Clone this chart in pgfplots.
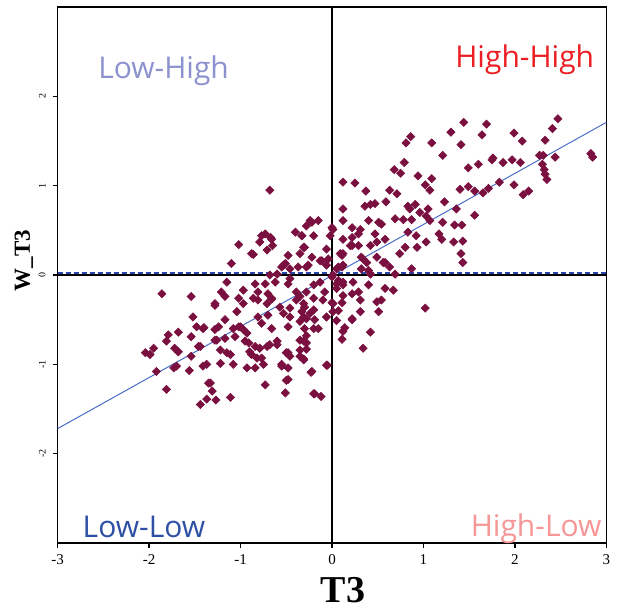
\documentclass[border=0pt]{standalone}
\usepackage{fontspec}
\setmainfont{Liberation Serif}
\newfontfamily\qfont{Open Sans}
\usepackage{pgfplots}
\pgfplotsset{compat=1.18}

\definecolor{ptcol}{RGB}{122,16,64}
\definecolor{lowhigh}{RGB}{140,146,206}
\definecolor{highhigh}{RGB}{236,30,36}
\definecolor{lowlow}{RGB}{45,80,165}
\definecolor{highlow}{RGB}{246,150,150}
\definecolor{regcol}{RGB}{74,108,200}
\definecolor{dashcol}{RGB}{40,70,170}

\begin{document}
\begin{tikzpicture}
\begin{axis}[
  scale only axis,
  width=274.5pt, height=268pt,
  xmin=-3, xmax=3, ymin=-3, ymax=3,
  xtick={-3,-2,-1,0,1,2,3},
  ytick={-2,-1,0,1,2},
  xtick pos=lower, ytick pos=left,
  tick align=outside,
  major tick length=2.5pt,
  axis line style={line width=0.8pt},
  tick style={black, line width=0.6pt},
  /pgf/number format/assume math mode=true,
  xticklabel style={font=\fontsize{7.5}{8}\selectfont},
  yticklabel style={font=\fontsize{5}{6}\selectfont, rotate=90, anchor=south},
  clip=false,
]
% keep the white margins of the reference
\path (axis cs:-3.63,3.08) rectangle (axis cs:3.16,-3.75);

% observations (T3, spatial lag W_T3)
\addplot[only marks, mark=square*, mark size=1.45pt, color=ptcol,
  mark options={rotate=45, line width=0.3pt}] coordinates {
(1.44,1.71)(1.69,1.69)(2.47,1.75)(2.41,1.64)(1.30,1.60)(1.64,1.57)(1.99,1.59)(0.86,1.55)
(0.81,1.48)(1.09,1.48)(1.41,1.46)(2.08,1.50)(2.33,1.51)(1.21,1.34)(1.76,1.31)(1.75,1.29)
(1.87,1.26)(1.97,1.29)(2.06,1.26)(2.27,1.34)(2.31,1.34)(2.44,1.32)(2.83,1.36)(2.85,1.32)
(0.79,1.26)(0.68,1.18)(0.75,1.14)(0.94,1.11)(1.09,1.08)(1.49,1.20)(1.60,1.24)(2.30,1.24)
(2.32,1.18)(2.33,1.13)(2.35,1.07)(0.12,1.04)(0.25,1.03)(1.02,1.01)(1.07,0.95)(0.37,0.94)
(0.63,0.95)(0.71,0.91)(1.40,0.96)(1.49,0.99)(1.56,0.94)(1.65,0.92)(1.71,0.97)(1.83,1.04)
(1.99,1.01)(2.09,0.90)(2.15,0.94)(0.36,0.77)(0.42,0.79)(0.47,0.80)(0.59,0.82)(0.83,0.77)
(0.91,0.79)(0.85,0.74)(1.23,0.82)(0.12,0.74)(0.96,0.70)(1.05,0.74)(1.36,0.74)(1.56,0.67)
(1.03,0.66)(0.12,0.61)(0.40,0.61)(0.51,0.59)(0.54,0.57)(0.69,0.63)(0.78,0.62)(0.87,0.62)
(1.07,0.61)(1.21,0.59)(1.34,0.56)(1.42,0.56)(0.22,0.53)(0.31,0.51)(0.01,0.51)(0.29,0.46)
(0.47,0.46)(0.58,0.40)(0.83,0.48)(0.92,0.44)(1.17,0.46)(0.22,0.42)(0.12,0.40)(0.42,0.33)
(0.49,0.37)(0.80,0.31)(0.93,0.31)(1.03,0.37)(1.20,0.40)(1.33,0.37)(1.43,0.38)(0.20,0.33)
(0.12,0.24)(0.34,0.18)(0.38,0.14)(0.49,0.20)(0.56,0.14)(0.63,0.09)(0.74,0.24)(0.87,0.07)
(1.41,0.24)(1.43,0.14)(0.11,0.09)(0.05,0.07)(0.32,0.07)(0.40,0.05)(0.69,0.01)(0.01,0.00)
(0.05,-0.10)(0.12,-0.08)(0.23,-0.08)(0.40,-0.11)(0.58,-0.15)(0.67,-0.17)(0.12,-0.23)(0.22,-0.21)
(0.29,-0.19)(0.31,-0.28)(0.49,-0.30)(0.54,-0.28)(0.51,-0.41)(1.02,-0.37)(0.22,-0.49)(0.01,-0.32)
(0.01,-0.41)(0.11,-0.31)(0.07,-0.40)(0.31,-0.41)(0.05,-0.51)(0.14,-0.59)(0.12,-0.63)(0.11,-0.72)
(0.42,-0.64)(0.34,-0.82)
(-0.20,-0.26)(-0.10,-0.28)(0.00,-0.31)(-0.06,-0.47)(0.22,-0.50)(-0.06,-1.01)(-0.23,-1.09)(-0.20,-1.33)
(-0.12,-1.36)(-0.31,-0.94)(-0.28,-0.83)(-0.31,-0.74)(-0.28,-0.68)(-0.20,-0.60)(-0.15,-0.60)(-0.30,-0.60)
(-0.28,-0.49)(-0.19,-0.50)(-0.24,-0.43)(-0.20,-0.39)(-0.30,-0.36)(-0.31,-0.47)
(-0.24,0.61)(-0.15,0.61)(-0.33,0.44)(-0.20,0.44)(-0.30,0.31)(-0.22,0.20)(-0.13,0.16)(-0.04,0.18)
(0.00,0.53)(-0.02,0.44)(-0.28,0.09)(0.09,0.24)(0.07,0.09)(0.12,0.11)(0.00,-0.02)(0.07,-0.06)
(-0.13,-0.08)(-0.20,-0.11)(-0.28,-0.19)(-0.08,-0.19)(0.05,-0.15)(0.12,-0.11)(0.42,0.01)(0.32,0.20)
(0.22,0.33)(0.29,0.33)(0.11,0.22)(0.58,0.14)
(-0.77,0.44)(-0.79,0.37)(-0.67,0.42)(-0.65,0.33)(-0.71,0.28)(-1.02,0.34)(-0.88,0.24)(-0.86,0.23)
(-1.10,0.13)(-0.48,0.22)(-0.35,0.24)(-0.40,0.48)(-0.33,0.44)(-0.28,0.55)(-0.51,0.13)(-0.55,0.09)
(-0.46,0.07)(-0.68,0.00)(-0.60,0.01)(-0.37,0.09)(-1.15,-0.08)(-0.73,-0.10)(-0.84,-0.10)(-0.62,-0.08)
(-0.46,-0.04)(-0.48,-0.10)(-0.97,-0.17)(-1.21,-0.19)(-1.17,-0.24)(-0.81,-0.19)(-0.70,-0.21)(-0.86,-0.26)
(-0.66,-0.27)(-0.35,-0.24)(-0.39,-0.19)(-0.68,0.95)
(-1.86,-0.21)(-1.54,-0.24)(-1.52,-0.47)(-1.48,-0.58)(-1.40,-0.59)(-1.79,-0.67)(-1.81,-0.74)(-1.68,-0.64)
(-1.54,-0.69)(-1.95,-0.82)(-2.04,-0.87)(-1.99,-0.89)(-1.72,-0.82)(-1.68,-0.86)(-1.46,-0.80)(-1.54,-0.91)
(-1.92,-1.08)(-1.73,-1.04)(-1.70,-1.02)(-1.56,-1.07)(-1.41,-1.02)(-1.81,-1.28)(-1.44,-1.45)(-1.35,-1.21)
(-1.28,-0.32)(-1.02,-0.26)(-0.97,-0.32)(-0.81,-0.28)(-0.71,-0.32)(-0.66,-0.26)(-0.57,-0.36)(-0.46,-0.37)
(-0.39,-0.28)(-0.31,-0.32)(-1.17,-0.50)(-1.41,-0.60)(-1.28,-0.61)(-1.08,-0.60)(-1.02,-0.58)(-0.97,-0.61)
(-0.81,-0.47)(-0.77,-0.54)(-0.70,-0.45)(-0.66,-0.60)(-0.53,-0.43)(-0.46,-0.47)(-0.48,-0.58)(-0.33,-0.41)
(-0.35,-0.52)(-1.28,-0.73)(-1.22,-0.84)(-1.15,-0.87)(-1.44,-0.80)(-1.06,-0.69)(-0.91,-0.76)(-0.84,-0.80)
(-0.79,-0.82)(-0.90,-0.86)(-0.77,-0.93)(-0.71,-0.80)(-0.60,-0.78)(-0.48,-0.87)(-0.46,-0.91)(-0.35,-0.73)
(-0.28,-0.76)(-0.35,-0.84)(-0.55,-1.02)(-0.48,-1.04)(-1.37,-1.00)(-1.22,-0.99)(-1.08,-1.00)(-0.93,-1.04)
(-0.84,-1.04)(-1.33,-1.21)(-1.31,-1.30)(-1.11,-1.37)(-0.73,-1.23)(-0.51,-1.32)(-0.48,-1.17)(-1.37,-1.39)
(-1.27,-1.40)(-0.19,-1.33)(-0.05,-1.01)(-0.50,-1.18)(-0.22,-1.08)(-1.04,-0.41)(-1.00,-0.58)(-1.28,-0.34)
(-1.24,-0.58)(-1.26,-0.73)(-1.17,-0.71)(-1.11,-0.89)(-0.93,-0.65)(-0.95,-0.74)(-0.88,-0.89)(-0.82,-0.93)
(-0.75,-1.00)(-0.68,-0.78)(-0.60,-0.74)(-0.50,-0.87)(-0.35,-0.91)(-0.31,-0.95)(-0.55,-1.00)(-0.73,0.46)
(-0.66,0.40)(-0.22,0.59)(-0.31,0.31)(-0.53,0.11)(-0.26,0.11)(-0.11,0.16)(-0.06,0.29)(-0.06,0.11)
};

% quadrant axes
\addplot[black, line width=0.6pt] coordinates {(0,-3) (0,3)};
\addplot[black, line width=0.6pt] coordinates {(-3,0) (3,0)};
\addplot[dashcol, line width=0.8pt, dash pattern=on 2.5pt off 1.5pt] coordinates {(-3,0.022) (3,0.022)};
% regression line
\addplot[regcol, line width=0.5pt] coordinates {(-3,-1.72) (3,1.71)};

% quadrant labels
\node[anchor=base west, text=lowhigh, font=\qfont\fontsize{15}{18}\selectfont, inner sep=0pt] at (axis cs:-2.56,2.20) {Low-High};
\node[anchor=base east, text=highhigh, font=\qfont\fontsize{15}{18}\selectfont, inner sep=0pt] at (axis cs:2.87,2.32) {High-High};
\node[anchor=base west, text=lowlow, font=\qfont\fontsize{15}{18}\selectfont, inner sep=0pt] at (axis cs:-2.73,-2.94) {Low-Low};
\node[anchor=base east, text=highlow, font=\qfont\fontsize{15}{18}\selectfont, inner sep=0pt] at (axis cs:2.95,-2.93) {High-Low};

% axis titles
\node[anchor=base, font=\bfseries\fontsize{19}{22}\selectfont, inner sep=0pt] at (axis cs:0.12,-3.67) {T3};
\node[rotate=90, font=\bfseries\fontsize{11.5}{14}\selectfont, inner sep=0pt] at (axis cs:-3.37,0.16) {W\_T3};
\end{axis}
\end{tikzpicture}
\end{document}
